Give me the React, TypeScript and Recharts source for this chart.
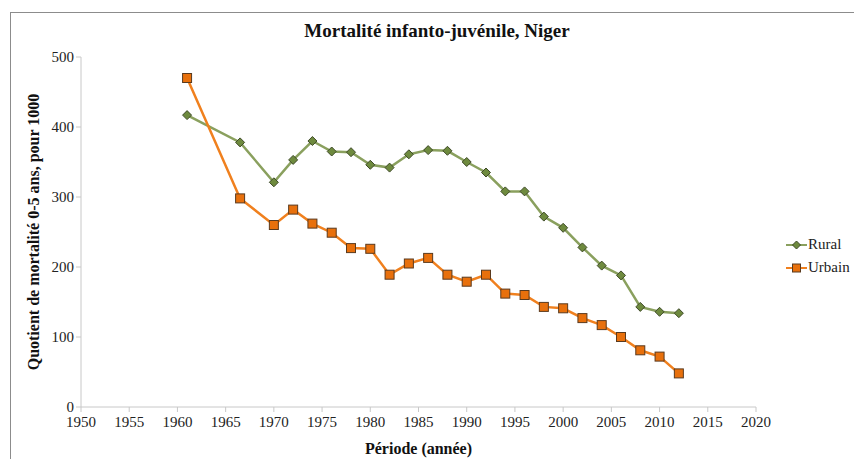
import React from 'react';
import { LineChart, Line, XAxis, YAxis } from 'recharts';

const years = [1961, 1966.5, 1970, 1972, 1974, 1976, 1978, 1980, 1982, 1984, 1986, 1988, 1990, 1992, 1994, 1996, 1998, 2000, 2002, 2004, 2006, 2008, 2010, 2012];
const rural = [417, 378, 321, 353, 380, 365, 364, 346, 342, 361, 367, 366, 350, 335, 308, 308, 272, 256, 228, 202, 188, 143, 136, 134];
const urbain = [470, 298, 260, 282, 262, 249, 227, 226, 189, 205, 213, 189, 179, 189, 162, 160, 143, 141, 127, 117, 100, 81, 72, 48];
const xTicks = [1950, 1955, 1960, 1965, 1970, 1975, 1980, 1985, 1990, 1995, 2000, 2005, 2010, 2015, 2020];
const yTicks = [0, 100, 200, 300, 400, 500];

const data = years.map((y, i) => ({ year: y, Rural: rural[i], Urbain: urbain[i] }));

const FONT = '"Liberation Serif", "Times New Roman", serif';
const RURAL_LINE = '#8aa05e';
const RURAL_FILL = '#6e8a3e';
const URB_LINE = '#f0801e';
const URB_FILL = '#e8700c';

const Diamond = (props: any) => {
  const { cx, cy } = props;
  if (cx == null || cy == null) return null;
  const r = 4.5;
  return (
    <path
      d={`M${cx},${cy - r}L${cx + r},${cy}L${cx},${cy + r}L${cx - r},${cy}Z`}
      fill={RURAL_FILL}
      stroke="#3e4a28"
      strokeWidth={1}
    />
  );
};

const Square = (props: any) => {
  const { cx, cy } = props;
  if (cx == null || cy == null) return null;
  return <rect x={cx - 4.5} y={cy - 4.5} width={9} height={9} fill={URB_FILL} stroke="#5a3a1e" strokeWidth={1} />;
};

const legendItems = [
  { name: 'Rural', line: RURAL_LINE, marker: 'd' },
  { name: 'Urbain', line: URB_LINE, marker: 's' },
];

const LegendBox = () => (
  <div style={{ position: 'absolute', left: 786, top: 233, fontFamily: FONT, fontSize: 15, color: '#222' }}>
    {legendItems.map((it) => (
      <div key={it.name} style={{ display: 'flex', alignItems: 'center', height: 23 }}>
        <svg width={21} height={12}>
          <line x1={0} y1={6} x2={21} y2={6} stroke={it.line} strokeWidth={2} />
          {it.marker === 'd' ? (
            <path d="M10.5,2L14.5,6L10.5,10L6.5,6Z" fill={RURAL_FILL} stroke="#3e4a28" />
          ) : (
            <rect x={6.5} y={2} width={8} height={8} fill={URB_FILL} stroke="#5a3a1e" />
          )}
        </svg>
        <span style={{ marginLeft: 1 }}>{it.name}</span>
      </div>
    ))}
  </div>
);

export default function App() {
  return (
    <div style={{ position: 'fixed', left: 0, top: 0, width: 854, height: 459, background: '#fff', overflow: 'hidden' }}>
      <div style={{ position: 'absolute', left: 10, top: 12, width: 900, height: 500, border: '1px solid #8c8c8c' }} />
      <div
        style={{
          position: 'absolute',
          left: 0,
          top: 20,
          width: 874,
          textAlign: 'center',
          fontFamily: FONT,
          fontWeight: 'bold',
          fontSize: 19,
          color: '#111',
        }}
      >
        Mortalité infanto-juvénile, Niger
      </div>
      <div style={{ position: 'absolute', left: 0, top: 0 }}>
        <LineChart width={854} height={459} data={data} margin={{ top: 57, right: 98, bottom: 22, left: 41 }}>
          <XAxis
            dataKey="year"
            type="number"
            domain={[1950, 2020]}
            ticks={xTicks}
            interval={0}
            stroke="#c8c8c8"
            tickSize={5}
            tickMargin={4}
            tick={{ fill: '#222', fontFamily: FONT, fontSize: 15 }}
            height={30}
            label={{ value: 'Période (année)', position: 'insideBottom', offset: -17, fill: '#111', fontFamily: FONT, fontWeight: 'bold', fontSize: 16 }}
          />
          <YAxis
            type="number"
            domain={[0, 500]}
            ticks={yTicks}
            interval={0}
            stroke="#c8c8c8"
            tickSize={5}
            width={40}
            tick={{ fill: '#222', fontFamily: FONT, fontSize: 15 }}
            label={{
              value: 'Quotient de mortalité 0-5 ans, pour 1000',
              angle: -90,
              position: 'insideLeft',
              offset: -8,
              style: { textAnchor: 'middle' },
              fill: '#111',
              fontFamily: FONT,
              fontWeight: 'bold',
              fontSize: 16,
            }}
          />
          <Line dataKey="Rural" stroke={RURAL_LINE} strokeWidth={2.5} dot={<Diamond />} activeDot={false} isAnimationActive={false} />
          <Line dataKey="Urbain" stroke={URB_LINE} strokeWidth={2.5} dot={<Square />} activeDot={false} isAnimationActive={false} />
        </LineChart>
      </div>
      <LegendBox />
    </div>
  );
}
